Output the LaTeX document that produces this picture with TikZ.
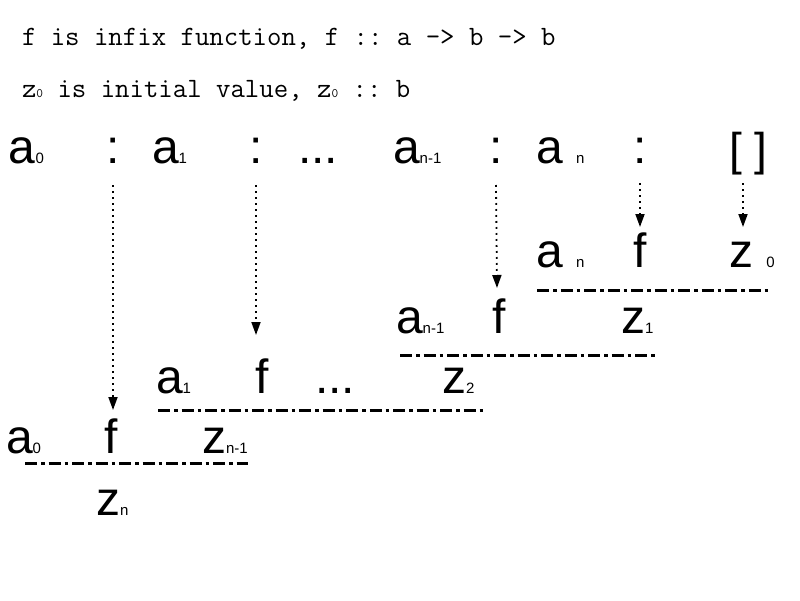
\documentclass[tikz,border=0pt]{standalone}
\usepackage{fontspec}
\setmainfont{Liberation Sans}
\usetikzlibrary{arrows.meta}
\newcommand\bigfnt{\fontsize{48}{48}\selectfont}
\newcommand\lsub[1]{{\fontsize{15}{15}\selectfont #1}}
\newcommand\msub[1]{{\fontsize{13}{13}\selectfont #1}}
\frenchspacing
\begin{document}
\begin{tikzpicture}[x=1pt,y=-1pt,
  lbl/.style={inner sep=0pt,outer sep=0pt,anchor=base west,font=\bigfnt},
  cbl/.style={inner sep=0pt,outer sep=0pt,anchor=base,font=\bigfnt},
  note/.style={inner sep=0pt,outer sep=0pt,anchor=base west,font=\ttfamily\fontsize{28}{28}\selectfont},
  dotarrow/.style={line width=1.8pt,dash pattern=on 1.8pt off 4.2pt,-{Triangle[length=13pt,width=9pt]}},
  foldline/.style={line width=3pt,dash pattern=on 12pt off 4pt on 3.5pt off 4pt}]
\fill[white] (0,0) rectangle (800,600);
\useasboundingbox (0,0) rectangle (800,600);

% header notes
\node[note] (t1) at (22,45) {f is infix function, f :: a -> b -> b};
\node[note] (t2) at (22,97) {z\msub{0} is initial value, z\msub{0} :: b};

% row 1: the list
\node[lbl] (l0) at (9,163) {a\lsub{0}};
\node[cbl] (c1) at (113,163) {:};
\node[lbl] (l1) at (152,163) {a\lsub{1}};
\node[cbl] (c2) at (256,163) {:};
\node[lbl] (ld) at (298,163) {...};
\node[lbl] (lm) at (393,163) {a\lsub{n-1}};
\node[cbl] (c3) at (496,163) {:};
\node[lbl] (ln) at (536,163) {a \lsub{n}};
\node[cbl] (c4) at (640,163) {:};
\node[lbl,font=\fontsize{46}{46}\selectfont] (nil) at (729,165) {[ ]};

% row 2
\node[lbl] (r2a) at (536,267) {a \lsub{n}};
\node[cbl] (r2f) at (640,267) {f};
\node[lbl] (r2z) at (729,267) {z \lsub{0}};
\draw[foldline] (537,290) -- (770,290);

% row 3
\node[lbl] (r3a) at (396,333) {a\lsub{n-1}};
\node[cbl] (r3f) at (499,333) {f};
\node[lbl] (r3z) at (621,333) {z\lsub{1}};
\draw[foldline] (400,355) -- (657,355);

% row 4
\node[lbl] (r4a) at (156,393) {a\lsub{1}};
\node[cbl] (r4f) at (262,393) {f};
\node[lbl] (r4d) at (315,393) {...};
\node[lbl] (r4z) at (442,393) {z\lsub{2}};
\draw[foldline] (158,410) -- (483,410);

% row 5
\node[lbl] (r5a) at (6,453) {a\lsub{0}};
\node[cbl] (r5f) at (111,453) {f};
\node[lbl] (r5z) at (202,453) {z\lsub{n-1}};
\draw[foldline] (25,463) -- (248,463);

% row 6
\node[lbl] (r6z) at (96,515) {z\lsub{n}};

% arrows
\coordinate (e1) at (113,410);
\coordinate (e2) at (256,335);
\coordinate (e3) at (497,288);
\coordinate (e4) at (640,227);
\coordinate (e5) at (743,227);
\draw[dotarrow] ([yshift=-22pt]c1.base) -- (e1);
\draw[dotarrow] ([yshift=-22pt]c2.base) -- (e2);
\draw[dotarrow] ([yshift=-22pt]c3.base) -- (e3);
\draw[dotarrow] ([yshift=-20pt]c4.base) -- (e4);
\draw[dotarrow] ([yshift=-20pt]c4.base -| e5) -- (e5);
\end{tikzpicture}
\end{document}
